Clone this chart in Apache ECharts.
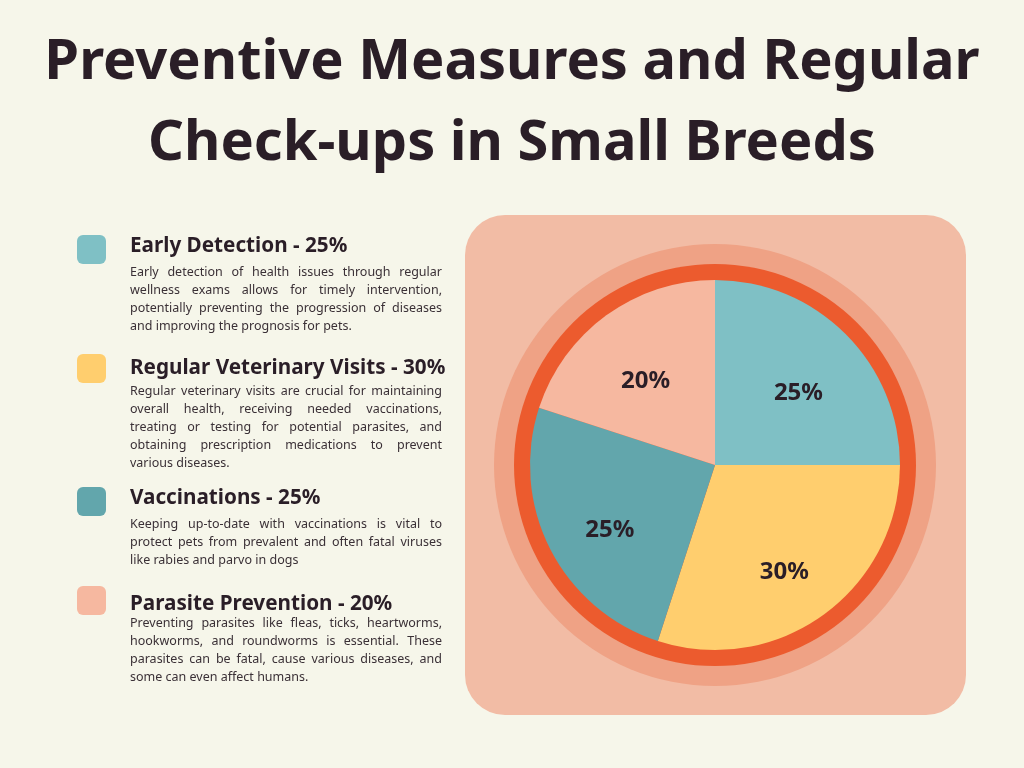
<!DOCTYPE html>
<html>
<head>
<meta charset="utf-8">
<style>
html,body{margin:0;padding:0;background:#F6F6EA;}
#main{width:1024px;height:768px;}
</style>
<script src="https://cdn.jsdelivr.net/npm/echarts@6/dist/echarts.min.js"></script>
</head>
<body>
<div id="main"></div>
<script>
// ---- data ----
const categories = ['Early Detection', 'Regular Veterinary Visits', 'Vaccinations', 'Parasite Prevention'];
const values = [25, 30, 25, 20];
const colors = ['#7FC0C5', '#FFCE6E', '#62A6AC', '#F6B8A0'];
const descriptions = [
  ['Early detection of health issues through regular',
   'wellness exams allows for timely intervention,',
   'potentially preventing the progression of diseases',
   'and improving the prognosis for pets.'],
  ['Regular veterinary visits are crucial for maintaining',
   'overall health, receiving needed vaccinations,',
   'treating or testing for potential parasites, and',
   'obtaining prescription medications to prevent',
   'various diseases.'],
  ['Keeping up-to-date with vaccinations is vital to',
   'protect pets from prevalent and often fatal viruses',
   'like rabies and parvo in dogs'],
  ['Preventing parasites like fleas, ticks, heartworms,',
   'hookworms, and roundworms is essential. These',
   'parasites can be fatal, cause various diseases, and',
   'some can even affect humans.']
];
const titleText = 'Preventive Measures and Regular\nCheck-ups in Small Breeds';

// ---- styling / layout ----
const FONT = '"Noto Sans", "Open Sans", sans-serif';
const DARK = '#2A1E27';
const DESC_COLOR = '#3A3036';
const legendX = 77, textX = 130, textW = 312;
const itemTops = [235, 354, 487, 586];      // top of each swatch
const titleCY = [246, 368, 498, 604];        // centre of item heading
const descStart = [272, 391, 524, 623];      // centre of first description line
const lineH = 18;
const descSize = 12.5;

const measureCtx = document.createElement('canvas').getContext('2d');
measureCtx.font = descSize + 'px ' + FONT;

const graphics = [];
graphics.push({type:'rect', z:0, shape:{x:465, y:215, width:501, height:500, r:40}, style:{fill:'#F2BCA5'}});
graphics.push({type:'circle', z:1, shape:{cx:715, cy:465, r:221}, style:{fill:'#EFA285'}});
graphics.push({type:'circle', z:1, shape:{cx:715, cy:465, r:201}, style:{fill:'#EC5B2E'}});

categories.forEach((c, i) => {
  graphics.push({type:'rect', z:1, shape:{x:legendX, y:itemTops[i], width:29, height:29, r:6}, style:{fill:colors[i]}});
  graphics.push({type:'text', z:1, x:textX, y:titleCY[i], style:{
    text: c + ' - ' + values[i] + '%', fill: DARK, font: 'bold 20.7px ' + FONT,
    textVerticalAlign:'middle', textAlign:'left'}});
  const lines = descriptions[i];
  lines.forEach((ln, j) => {
    const y = descStart[i] + j * lineH;
    const words = ln.split(' ');
    const last = j === lines.length - 1;
    if (last || words.length < 2) {
      graphics.push({type:'text', z:1, x:textX, y:y, style:{text: ln, fill: DESC_COLOR,
        font: descSize + 'px ' + FONT, textVerticalAlign:'middle', textAlign:'left'}});
    } else {
      const widths = words.map(w => measureCtx.measureText(w).width);
      const total = widths.reduce((a, b) => a + b, 0);
      const gap = (textW - total) / (words.length - 1);
      let x = textX;
      words.forEach((w, k) => {
        graphics.push({type:'text', z:1, x:x, y:y, style:{text: w, fill: DESC_COLOR,
          font: descSize + 'px ' + FONT, textVerticalAlign:'middle', textAlign:'left'}});
        x += widths[k] + gap;
      });
    }
  });
});

const pieData = categories.map((c, i) => ({name: c, value: values[i], itemStyle: {color: colors[i]}}));

const chart = echarts.init(document.getElementById('main'), null, {renderer:'canvas'});
chart.setOption({
  backgroundColor: '#F6F6EA',
  animation: false,
  title: {
    text: titleText, left: 'center', top: 18,
    textStyle: {fontFamily: FONT, fontWeight: 'bold', fontSize: 56, lineHeight: 81, color: DARK}
  },
  graphic: graphics,
  series: [
    {
      type: 'pie', z: 3, center: [715, 465], radius: [0, 185], startAngle: 90, clockwise: true,
      silent: true, label: {show: false}, labelLine: {show: false},
      itemStyle: {borderWidth: 0}, data: pieData
    },
    {
      type: 'pie', z: 4, center: [715, 465], radius: [45, 185], startAngle: 90, clockwise: true,
      silent: true, itemStyle: {color: 'transparent', borderWidth: 0},
      labelLine: {show: false},
      label: {show: true, position: 'inside', formatter: '{c}%', color: DARK, offset: [0, 12],
        fontFamily: FONT, fontWeight: 'bold', fontSize: 24},
      data: categories.map((c, i) => ({name: c, value: values[i]}))
    }
  ]
});
</script>
</body>
</html>
